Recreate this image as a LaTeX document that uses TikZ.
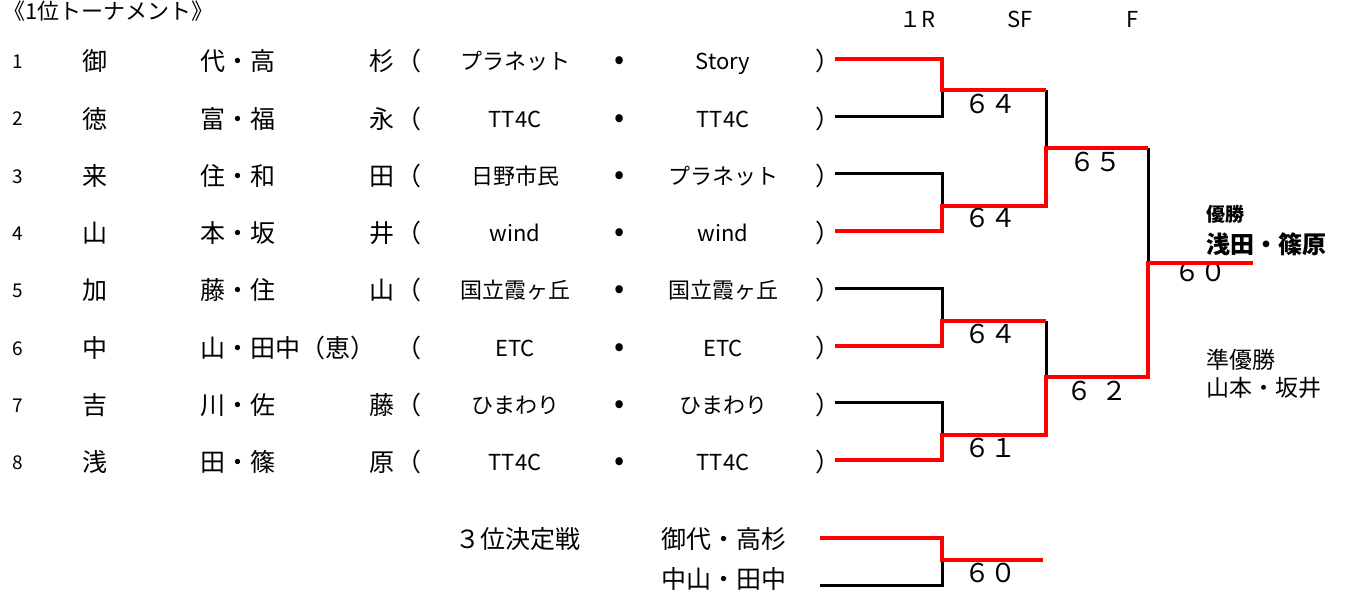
\documentclass[tikz,border=0pt]{standalone}
\usepackage{fontspec}
\setmainfont{Noto Sans CJK JP}
\usetikzlibrary{positioning}
\definecolor{winred}{RGB}{255,0,0}
\tikzset{
	txt/.style={inner sep=0pt},
	seed/.style={txt, text height=15pt, text depth=2pt, font=\fontsize{19}{22}\selectfont},
	player/.style={txt, text height=20pt, text depth=2.5pt, font=\fontsize{25}{29}\selectfont},
	club/.style={txt, text height=17.6pt, text depth=2.2pt, font=\fontsize{22}{26}\selectfont},
	bullet/.style={txt, text height=17.6pt, text depth=2.2pt, font=\fontsize{30}{34}\selectfont},
	score/.style={txt, text height=20.8pt, text depth=2.6pt, font=\fontsize{26}{30}\selectfont},
	head/.style={txt, text height=17.6pt, text depth=2.2pt, font=\fontsize{22}{26}\selectfont},
	result/.style={txt, anchor=west, text height=18.4pt, text depth=2.3pt, font=\fontsize{23}{27}\selectfont},
	loser/.style={draw=black, line width=3pt},
	winner/.style={draw=winred, line width=4pt},
}

\begin{document}
\begin{tikzpicture}[x=1pt,y=-1pt]
	\useasboundingbox (0,0) rectangle (1350,598);
	% headings
	\node[head, anchor=west] (title) at (3,12) {《1位トーナメント》};
	\node[head] (h1r) at (917,20) {１R};
	\node[head] (hsf) at (1020,20) {SF};
	\node[head] (hf) at (1133,20) {F};

	% entries
	\foreach \i/\fa/\fb/\fc/\ta/\tb in {
		1/御/代・高/杉/プラネット/Story,
		2/徳/富・福/永/TT4C/TT4C,
		3/来/住・和/田/日野市民/プラネット,
		4/山/本・坂/井/wind/wind,
		5/加/藤・住/山/国立霞ヶ丘/国立霞ヶ丘,
		6/中/{山・田中（恵）}//ETC/ETC,
		7/吉/川・佐/藤/ひまわり/ひまわり,
		8/浅/田・篠/原/TT4C/TT4C}{
		\pgfmathsetmacro\ry{62+57.3*(\i-1)}
		\node[seed] (num\i) at (18,\ry) {\i};
		\node[player] (fa\i) at (95,\ry) {\fa};
		\node[player, anchor=west] (fb\i) at (200,\ry) {\fb};
		\node[player] (fc\i) at (382,\ry) {\fc};
		\node[player, anchor=west] (lp\i) at (396,\ry) {（};
		\node[club] (ta\i) at (515,\ry) {\ta};
		\node[bullet] (dot\i) at (620,\ry) {•};
		\node[club] (tb\i) at (723,\ry) {\tb};
		\node[player, anchor=west] (rp\i) at (815,\ry) {）};
		\coordinate (r\i) at (835,\ry-3);
	}

	% bracket points
	\coordinate (m12) at (942,90);
	\coordinate (m34) at (942,206);
	\coordinate (m56) at (942,321);
	\coordinate (m78) at (942,435);
	\coordinate (s14) at (1046,148);
	\coordinate (s58) at (1046,377);
	\coordinate (fin) at (1148,263);
	\coordinate (champ) at (1253,263);

	% scores
	\node[score] (sc12) at (990,104) {６４};
	\node[score] (sc34) at (990,218) {６４};
	\node[score] (sc56) at (990,334) {６４};
	\node[score] (sc78) at (990,448) {６１};
	\node[score] (sc14) at (1095,162) {６５};
	\node[score] (sc58) at (1097,391) {６\hspace{10pt}２};
	\node[score] (scf) at (1200,272) {６０};

	% results
	\node[result, text height=15.2pt, text depth=1.9pt, font=\bfseries\fontsize{19}{22}\selectfont] (wlab) at (1206,215) {優勝};
	\node[result, text height=19.2pt, text depth=2.4pt, font=\bfseries\fontsize{24}{28}\selectfont] (wname) at (1206,245) {浅田・篠原};
	\node[result] (rlab) at (1206,360) {準優勝};
	\node[result] (rname) at (1206,388) {山本・坂井};

	% third place
	\node[player] (bronze) at (518,540) {３位決定戦};
	\node[player] (p3a) at (724,540) {御代・高杉};
	\node[player] (p3b) at (724,580) {中山・田中};
	\coordinate (r9) at (820,538);
	\coordinate (r10) at (820,585);
	\coordinate (m910) at (942,560);
	\coordinate (third) at (1043,560);
	\node[score] (sc910) at (990,573) {６０};

	% losing lines
	\draw[loser] (r2) -| (m12);
	\draw[loser] (r3) -| (m34);
	\draw[loser] (r5) -| (m56);
	\draw[loser] (r7) -| (m78);
	\draw[loser] (m12 -| s14) -- (s14);
	\draw[loser] (m56 -| s58) -- (s58);
	\draw[loser] (s14 -| fin) -- (fin);
	\draw[loser] (r10) -| (m910);
	% winning lines
	\draw[winner] (r1) -| (m12) -- (m12 -| s14);
	\draw[winner] (r4) -| (m34) -- (m34 -| s14) -- (s14) -- (s14 -| fin);
	\draw[winner] (r6) -| (m56) -- (m56 -| s58);
	\draw[winner] (r8) -| (m78) -- (m78 -| s58) -- (s58) -- (s58 -| fin) -- (fin) -- (champ);
	\draw[winner] (r9) -| (m910) -- (third);
\end{tikzpicture}
\end{document}
